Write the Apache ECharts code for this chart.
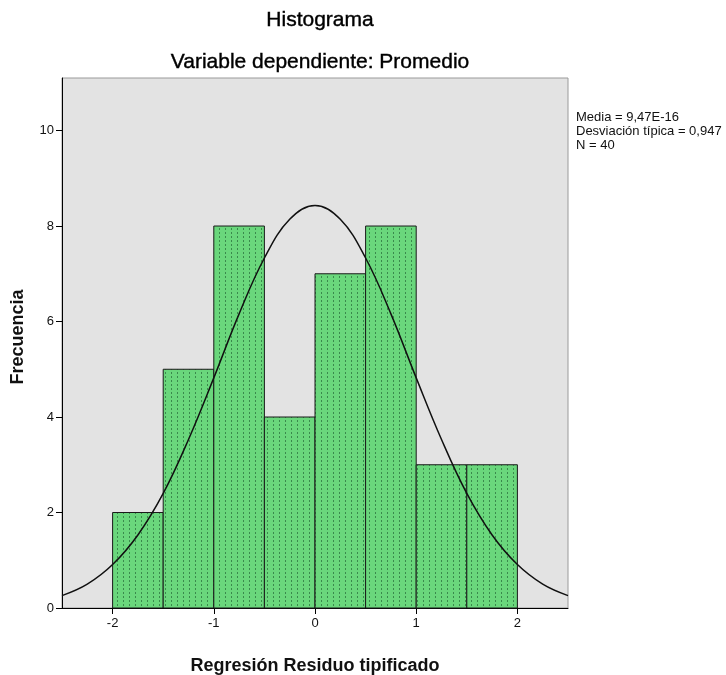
<!DOCTYPE html>
<html>
<head>
<meta charset="utf-8">
<script src="https://cdn.jsdelivr.net/npm/echarts@6/dist/echarts.min.js"></script>
<style>
  html, body { margin: 0; padding: 0; background: #fff; }
  #chart { width: 726px; height: 675px; }
</style>
</head>
<body>
<div id="chart"></div>
<script>
// intervalos del histograma (Regresión Residuo tipificado)
const binStart = [-2, -1.5, -1, -0.5, 0, 0.5, 1, 1.5]
const binEnd = [-1.5, -1, -0.5, 0, 0.5, 1, 1.5, 2]
const counts = [2, 5, 8, 4, 7, 8, 3, 3]

// curva normal
const curveX = [-2.5, -2.25, -2, -1.75, -1.5, -1.25, -1, -0.75, -0.5, -0.25, 0,
  0.25, 0.5, 0.75, 1, 1.25, 1.5, 1.75, 2, 2.25, 2.5]
const curveY = [0.26, 0.5, 0.91, 1.53, 2.4, 3.53, 4.82, 6.16, 7.33, 8.14, 8.43,
  8.14, 7.33, 6.16, 4.82, 3.53, 2.4, 1.53, 0.91, 0.5, 0.26]

const xTicks = [-2, -1, 0, 1, 2]
const yTicks = [0, 2, 4, 6, 8, 10]
const statsLines = ['Media = 9,47E-16', 'Desviación típica = 0,947', 'N = 40']

// relleno verde punteado tipo SPSS
function makePattern() {
  const c = document.createElement('canvas')
  c.width = 6
  c.height = 4
  const ctx = c.getContext('2d')
  ctx.fillStyle = '#6ad77c'
  ctx.fillRect(0, 0, 6, 4)
  ctx.fillStyle = '#3a8a4c'
  ctx.fillRect(3, 0, 1, 2)
  return c
}

const chart = echarts.init(document.getElementById('chart'))
const font = '"Liberation Sans", Arial, sans-serif'
const titleStyle = {
  fontSize: 21,
  fontWeight: 'normal',
  color: '#000',
  fontFamily: font,
  textBorderColor: '#000',
  textBorderWidth: 0.4
}

const option = {
  animation: false,
  textStyle: { fontFamily: font },
  title: [
    { text: 'Histograma', left: 315, top: 5, textAlign: 'center', textStyle: titleStyle },
    { text: 'Variable dependiente: Promedio', left: 315, top: 47, textAlign: 'center', textStyle: titleStyle }
  ],
  graphic: [
    {
      type: 'text',
      left: 576,
      top: 110,
      style: {
        text: statsLines.join('\n'),
        font: '13px ' + font,
        fill: '#111',
        lineHeight: 14
      }
    },
    {
      type: 'text',
      x: 18,
      y: 337,
      rotation: Math.PI / 2,
      style: {
        text: 'Frecuencia',
        font: 'bold 18px ' + font,
        fill: '#111',
        align: 'center',
        verticalAlign: 'middle'
      }
    }
  ],
  grid: {
    left: 62,
    right: 158,
    top: 78,
    bottom: 67,
    outerBoundsMode: 'none',
    containLabel: false,
    show: true,
    backgroundColor: '#e3e3e3',
    borderColor: '#9a9a9a',
    borderWidth: 1
  },
  xAxis: {
    type: 'value',
    min: -2.5,
    max: 2.5,
    name: 'Regresión Residuo tipificado',
    nameLocation: 'middle',
    nameGap: 49,
    nameTextStyle: { fontSize: 18, fontWeight: 'bold', color: '#111' },
    splitLine: { show: false },
    axisLine: { show: true, onZero: false, lineStyle: { color: '#000', width: 1 } },
    axisTick: { show: true, length: 6, customValues: xTicks, lineStyle: { color: '#000' } },
    axisLabel: { customValues: xTicks, fontSize: 13, color: '#111', margin: 9 }
  },
  yAxis: {
    type: 'value',
    min: 0,
    max: 11.1,
    splitLine: { show: false },
    axisLine: { show: true, onZero: false, lineStyle: { color: '#000', width: 1 } },
    axisTick: { show: true, length: 6, customValues: yTicks, lineStyle: { color: '#000' } },
    axisLabel: { customValues: yTicks, fontSize: 13, color: '#111', margin: 8 }
  },
  series: [
    {
      type: 'custom',
      data: counts.map((v, i) => [binStart[i], binEnd[i], v]),
      renderItem: function (params, api) {
        const p0 = api.coord([api.value(0), api.value(2)])
        const p1 = api.coord([api.value(1), 0])
        return {
          type: 'rect',
          shape: { x: p0[0], y: p0[1], width: p1[0] - p0[0], height: p1[1] - p0[1] },
          style: {
            fill: { image: makePattern(), repeat: 'repeat' },
            stroke: '#1a1a1a',
            lineWidth: 1
          }
        }
      },
      z: 2
    },
    {
      type: 'line',
      data: curveX.map((x, i) => [x, curveY[i]]),
      smooth: 0.4,
      showSymbol: false,
      lineStyle: { color: '#111', width: 1.5 },
      z: 3
    }
  ]
}

chart.setOption(option)
</script>
</body>
</html>
